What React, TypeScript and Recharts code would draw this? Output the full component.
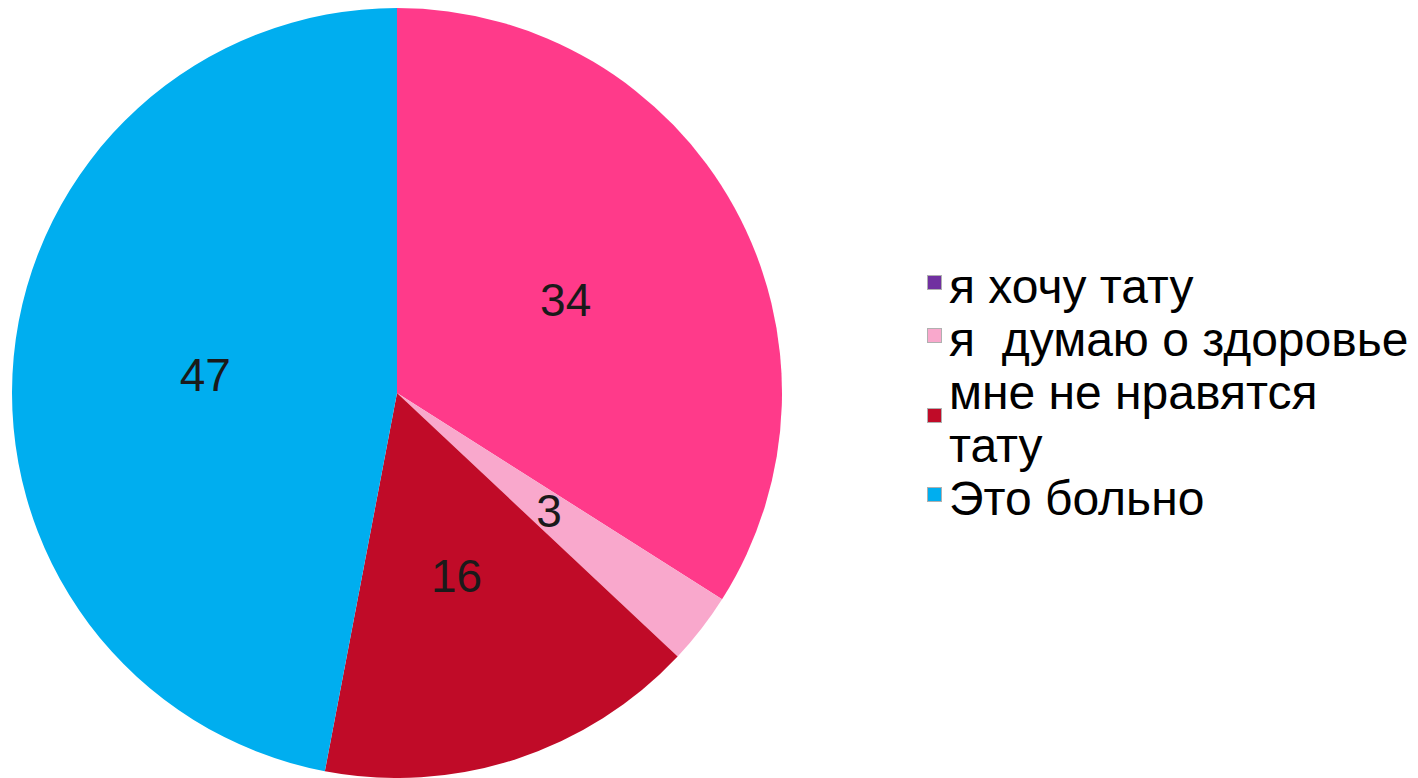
import React from 'react';
import { PieChart, Pie, Cell, Legend } from 'recharts';

const categories = ['я хочу тату', 'я  думаю о здоровье', 'мне не нравятся тату', 'Это больно'];
const values = [34, 3, 16, 47];
const sliceColors = ['#FF3A8A', '#F9A8CC', '#C00B28', '#00AEEF'];
const legendColors = ['#7030A0', '#F9A8CC', '#C00B28', '#00AEEF'];

const data = categories.map((name, i) => ({ name, value: values[i] }));

const FONT = '"Liberation Sans", Arial, sans-serif';
const RAD = Math.PI / 180;

const renderLabel = (props: any) => {
  const { cx, cy, midAngle, outerRadius, value } = props;
  const r = outerRadius * 0.5;
  const x = cx + r * Math.cos(-midAngle * RAD);
  const y = cy + r * Math.sin(-midAngle * RAD);
  return (
    <text x={x} y={y} textAnchor="middle" dominantBaseline="central" fill="#1a1a1a" fontSize={46} fontFamily={FONT}>
      {value}
    </text>
  );
};

const LegendContent = () => (
  <div style={{ fontFamily: FONT, fontSize: 48, color: '#000', lineHeight: '53px' }}>
    {data.map((d, i) => (
      <div key={d.name} style={{ display: 'flex', alignItems: 'center' }}>
        <div
          style={{
            width: 15,
            height: 15,
            background: legendColors[i],
            border: '1px solid #b0b0b0',
            boxSizing: 'border-box',
            marginRight: 7,
            flex: '0 0 auto',
            transform: 'translateY(-4px)',
          }}
        />
        <div style={{ whiteSpace: 'pre-wrap', width: 466 }}>{d.name}</div>
      </div>
    ))}
  </div>
);

export default function App() {
  return (
    <div style={{ position: 'absolute', left: 0, top: 0, width: 1418, height: 778, background: '#fff' }}>
      <PieChart width={1418} height={778} margin={{ top: 0, right: 0, bottom: 0, left: 0 }}>
        <Pie
          data={data}
          dataKey="value"
          nameKey="name"
          cx={397}
          cy={393}
          outerRadius={385}
          startAngle={90}
          endAngle={-270}
          stroke="none"
          label={renderLabel}
          labelLine={false}
          isAnimationActive={false}
        >
          {data.map((d, i) => (
            <Cell key={d.name} fill={sliceColors[i]} />
          ))}
        </Pie>
        <Legend
          layout="vertical"
          align="right"
          verticalAlign="top"
          content={<LegendContent />}
          wrapperStyle={{ position: 'absolute', left: 927, top: 260, width: 491 }}
        />
      </PieChart>
    </div>
  );
}
